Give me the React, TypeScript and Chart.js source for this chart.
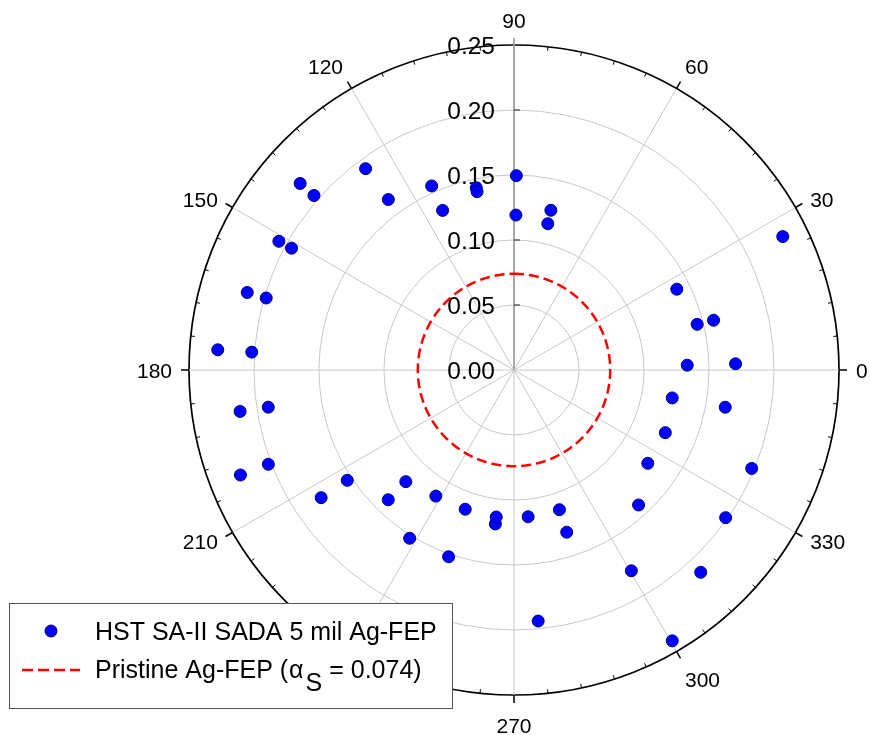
import React, { useEffect, useRef } from 'react';
import { Chart, registerables } from 'chart.js';

Chart.register(...registerables);

// ---- data ----
const ANGLES_DEG = [
  1.6, 14.0, 26.4, 77.0, 89.3, 101.75, 114.1, 126.45, 138.9, 151.3, 163.8, 176.1, 188.65,
  201.05, 213.5, 225.9, 238.2, 250.7, 263.1, 275.55, 288.0, 300.3, 312.7, 325.1, 337.55, 350.0,
];
const ALPHA_INNER = [
  0.1333, 0.1452, 0.1398, 0.1155, 0.1192, 0.1401, 0.1345, 0.1629, 0.2042, 0.1951, 0.1985, 0.2022, 0.1912,
  0.2024, 0.1538, 0.1196, 0.1141, 0.1135, 0.1139, 0.1134, 0.113, 0.1789, 0.1413, 0.1255, 0.126, 0.1236,
];
const ALPHA_OUTER = [
  0.1705, 0.1582, 0.2308, 0.1261, 0.1495, 0.1432, 0.1551, 0.1924, 0.2183, 0.2062, 0.2137, 0.2284, 0.2131,
  0.2254, 0.1779, 0.139, 0.1523, 0.1522, 0.1193, 0.194, 0.1312, 0.2413, 0.2118, 0.1985, 0.1979, 0.165,
];
const PRISTINE_ALPHA = 0.074;
const R_MIN = 0;
const R_MAX = 0.25;
const R_STEP = 0.05;
const ANGLE_TICKS = [0, 30, 60, 90, 120, 150, 180, 210, 240, 270, 300, 330];
const MINOR_ANGLE_STEP = 6;
const SERIES_LABEL = 'HST SA-II SADA 5 mil Ag-FEP';
const PRISTINE_LABEL = 'Pristine Ag-FEP';

// ---- angular bins for the radial scale (0.1 degree resolution) ----
const STEPS_PER_DEG = 10;
const N_BINS = 360 * STEPS_PER_DEG;
const norm360 = (d: number) => ((d % 360) + 360) % 360;
const angleToIndex = (deg: number) => Math.round(norm360(90 - deg) * STEPS_PER_DEG) % N_BINS;
const BIN_LABELS = Array.from({ length: N_BINS }, (_, i) => norm360(90 - i / STEPS_PER_DEG).toFixed(1));

function binSeries(angles: number[], values: number[]) {
  const arr: (number | null)[] = new Array(N_BINS).fill(null);
  angles.forEach((a, k) => {
    arr[angleToIndex(a)] = values[k];
  });
  return arr;
}

const FONT = '"Liberation Sans", Arial, Helvetica, sans-serif';
const POINT_FILL = '#0000ff';
const POINT_BORDER = '#00007a';
const RED = '#ff0000';
const GRID = '#c8c8c8';

const polarDecor = {
  id: 'polarDecor',
  beforeDatasetsDraw(chart: any) {
    const s = chart.scales.r;
    const ctx = chart.ctx as CanvasRenderingContext2D;
    const R = s.getDistanceFromCenterForValue(s.max);
    const line = (a: any, b: any) => {
      ctx.beginPath();
      ctx.moveTo(a.x, a.y);
      ctx.lineTo(b.x, b.y);
      ctx.stroke();
    };
    ctx.save();
    // ticks on the outer ring
    ctx.strokeStyle = '#000';
    for (let d = 0; d < 360; d += MINOR_ANGLE_STEP) {
      const idx = angleToIndex(d);
      if (d % 30 === 0) {
        if (d === 90) continue;
        ctx.lineWidth = 1.5;
        line(s.getPointPosition(idx, R), s.getPointPosition(idx, R + 8));
      } else {
        ctx.lineWidth = 1;
        line(s.getPointPosition(idx, R), s.getPointPosition(idx, R - 4));
      }
    }
    // radial axis line at 90 deg
    const idx90 = angleToIndex(90);
    ctx.strokeStyle = '#9a9a9a';
    ctx.lineWidth = 1.6;
    line({ x: s.xCenter, y: s.yCenter }, s.getPointPosition(idx90, R + 7));
    // radial axis ticks
    ctx.strokeStyle = '#222';
    ctx.lineWidth = 1;
    s.ticks.forEach((t: any) => {
      if (t.value <= s.min || t.value >= s.max) return;
      const p = s.getPointPosition(idx90, s.getDistanceFromCenterForValue(t.value));
      line(p, { x: p.x + 6, y: p.y });
    });
    // radial tick labels
    ctx.fillStyle = '#000';
    ctx.font = `24.5px ${FONT}`;
    ctx.textAlign = 'right';
    ctx.textBaseline = 'alphabetic';
    s.ticks.forEach((t: any) => {
      const p = s.getPointPosition(idx90, s.getDistanceFromCenterForValue(t.value));
      ctx.fillText(t.value.toFixed(2), p.x - 19, p.y + 8.5);
    });
    // angular labels
    ctx.font = `21px ${FONT}`;
    const capH = 15;
    ANGLE_TICKS.forEach((deg) => {
      const p = s.getPointPosition(angleToIndex(deg), R + 17);
      const c = Math.cos((deg * Math.PI) / 180);
      const sn = Math.sin((deg * Math.PI) / 180);
      ctx.textAlign = c > 0.3 ? 'left' : c < -0.3 ? 'right' : 'center';
      let y: number;
      if (Math.abs(sn) < 0.6) y = p.y + capH / 2;
      else if (sn > 0) y = p.y;
      else y = p.y + 6 + capH;
      ctx.fillText(String(deg), p.x, y);
    });
    ctx.restore();
  },
  afterDraw(chart: any) {
    const ctx = chart.ctx as CanvasRenderingContext2D;
    ctx.save();
    // legend box
    const bx = 9.5, by = 603.5, bw = 443, bh = 105;
    ctx.fillStyle = '#fff';
    ctx.fillRect(bx, by, bw, bh);
    ctx.strokeStyle = '#555';
    ctx.lineWidth = 1;
    ctx.strokeRect(bx, by, bw, bh);
    // entry 1
    ctx.beginPath();
    ctx.arc(51, 631, 6, 0, Math.PI * 2);
    ctx.fillStyle = POINT_FILL;
    ctx.fill();
    ctx.strokeStyle = POINT_BORDER;
    ctx.lineWidth = 1;
    ctx.stroke();
    ctx.fillStyle = '#000';
    ctx.font = `25px ${FONT}`;
    ctx.textAlign = 'left';
    ctx.textBaseline = 'alphabetic';
    ctx.fillText(SERIES_LABEL, 95, 640);
    // entry 2
    ctx.strokeStyle = RED;
    ctx.lineWidth = 2.5;
    ctx.setLineDash([11, 5]);
    ctx.beginPath();
    ctx.moveTo(22, 670);
    ctx.lineTo(80, 670);
    ctx.stroke();
    ctx.setLineDash([]);
    let x = 95;
    const base = 678;
    const t1 = `${PRISTINE_LABEL} (`;
    ctx.fillText(t1, x, base);
    x += ctx.measureText(t1).width + 1;
    ctx.fillText('\u03B1', x, base);
    x += ctx.measureText('\u03B1').width + 2;
    ctx.fillText('S', x, base + 13);
    x += ctx.measureText('S').width;
    ctx.fillText(` = ${PRISTINE_ALPHA.toFixed(3)})`, x, base);
    ctx.restore();
  },
};

export default function App() {
  const canvasRef = useRef<HTMLCanvasElement | null>(null);

  useEffect(() => {
    const canvas = canvasRef.current;
    if (!canvas) return;
    const pointStyle = {
      showLine: false,
      fill: false,
      pointRadius: 6,
      pointBackgroundColor: POINT_FILL,
      pointBorderColor: POINT_BORDER,
      pointBorderWidth: 1,
      borderWidth: 0,
      backgroundColor: POINT_FILL,
      borderColor: POINT_BORDER,
    };
    const chart = new Chart(canvas, {
      type: 'radar',
      data: {
        labels: BIN_LABELS,
        datasets: [
          { label: SERIES_LABEL, data: binSeries(ANGLES_DEG, ALPHA_INNER), ...pointStyle },
          { label: SERIES_LABEL, data: binSeries(ANGLES_DEG, ALPHA_OUTER), ...pointStyle },
          {
            label: PRISTINE_LABEL,
            data: BIN_LABELS.map(() => PRISTINE_ALPHA),
            showLine: true,
            fill: false,
            borderColor: RED,
            borderWidth: 2.5,
            borderDash: [10, 5],
            pointRadius: 0,
            pointHitRadius: 0,
            tension: 0,
          },
        ],
      } as any,
      options: {
        responsive: false,
        animation: false,
        devicePixelRatio: 1,
        events: [],
        layout: { padding: { left: 189, top: 45, right: 31, bottom: 40 } },
        plugins: { legend: { display: false }, tooltip: { enabled: false } },
        scales: {
          r: {
            type: 'radialLinear',
            min: R_MIN,
            max: R_MAX,
            startAngle: 0,
            ticks: { display: false, stepSize: R_STEP },
            pointLabels: { display: false },
            grid: {
              circular: true,
              color: (c: any) => (c.tick && c.tick.value >= R_MAX - 1e-9 ? '#000' : GRID),
              lineWidth: (c: any) => (c.tick && c.tick.value >= R_MAX - 1e-9 ? 1.7 : 1),
            },
            angleLines: {
              display: true,
              color: GRID,
              lineWidth: (c: any) => (c.index % (30 * STEPS_PER_DEG) === 0 ? 1 : 0),
            },
          },
        },
      } as any,
      plugins: [polarDecor],
    });
    return () => chart.destroy();
  }, []);

  return (
    <div style={{ position: 'absolute', left: 0, top: 0, width: 870, height: 735, background: '#fff' }}>
      <canvas ref={canvasRef} width={870} height={735} style={{ display: 'block' }} />
    </div>
  );
}
